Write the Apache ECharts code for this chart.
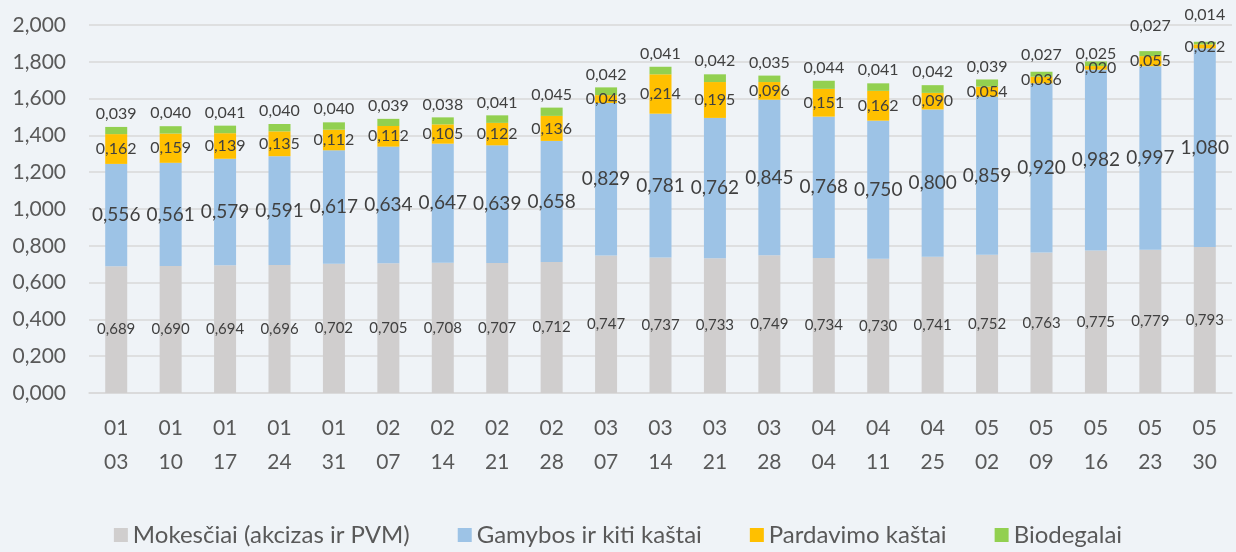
<!DOCTYPE html>
<html>
<head>
<meta charset="utf-8">
<title>Kainos struktūra</title>
<script src="https://cdn.jsdelivr.net/npm/echarts@6/dist/echarts.min.js"></script>
<style>
  html, body { margin: 0; padding: 0; background: #eff3f7; }
  #chart { width: 1236px; height: 552px; }
</style>
</head>
<body>
<div id="chart"></div>
<script>
// datos (mėnuo \n diena)
const categories = [
  '01\n03', '01\n10', '01\n17', '01\n24', '01\n31', '02\n07', '02\n14', '02\n21', '02\n28',
  '03\n07', '03\n14', '03\n21', '03\n28', '04\n04', '04\n11', '04\n25', '05\n02', '05\n09',
  '05\n16', '05\n23', '05\n30'
];
const mokesciai = [0.689, 0.690, 0.694, 0.696, 0.702, 0.705, 0.708, 0.707, 0.712, 0.747, 0.737,
  0.733, 0.749, 0.734, 0.730, 0.741, 0.752, 0.763, 0.775, 0.779, 0.793];
const gamybos = [0.556, 0.561, 0.579, 0.591, 0.617, 0.634, 0.647, 0.639, 0.658, 0.829, 0.781,
  0.762, 0.845, 0.768, 0.750, 0.800, 0.859, 0.920, 0.982, 0.997, 1.080];
const pardavimo = [0.162, 0.159, 0.139, 0.135, 0.112, 0.112, 0.105, 0.122, 0.136, 0.043, 0.214,
  0.195, 0.096, 0.151, 0.162, 0.090, 0.054, 0.036, 0.020, 0.055, 0.022];
const biodegalai = [0.039, 0.040, 0.041, 0.040, 0.040, 0.039, 0.038, 0.041, 0.045, 0.042, 0.041,
  0.042, 0.035, 0.044, 0.041, 0.042, 0.039, 0.027, 0.025, 0.027, 0.014];

const fmt = v => v.toFixed(3).replace('.', ',');
const font = 'Lato, "Noto Sans", sans-serif';
const textColor = '#404040';

// kai kurios viršutinės etiketės Excel'yje pakeltos ranka
const topLabelDistance = { 17: 9, 18: 0, 19: 17, 20: 19 };

const chart = echarts.init(document.getElementById('chart'));

const lbl = (size) => ({
  show: true,
  position: 'inside',
  color: textColor,
  fontFamily: font,
  fontSize: size,
  formatter: p => fmt(p.value)
});

chart.setOption({
  backgroundColor: '#eff3f7',
  animation: false,
  grid: { left: 89, right: 4, top: 25, bottom: 159 },
  legend: {
    bottom: 0,
    left: 'center',
    itemWidth: 14,
    itemHeight: 14,
    itemGap: 48,
    icon: 'rect',
    textStyle: { fontFamily: font, fontSize: 24, color: '#595959' }
  },
  xAxis: {
    type: 'category',
    data: categories,
    axisLine: { lineStyle: { color: '#d9d9d9', width: 1.5 } },
    axisTick: { show: false },
    axisLabel: {
      interval: 0,
      margin: 18,
      fontFamily: font,
      fontSize: 21,
      lineHeight: 34,
      color: '#595959'
    }
  },
  yAxis: {
    type: 'value',
    min: 0,
    max: 2,
    interval: 0.2,
    axisLine: { show: false },
    axisTick: { show: false },
    splitLine: { lineStyle: { color: '#d9d9d9', width: 1.5 } },
    axisLabel: {
      margin: 23,
      fontFamily: font,
      fontSize: 21,
      color: '#595959',
      formatter: fmt
    }
  },
  series: [
    {
      name: 'Mokesčiai (akcizas ir PVM)',
      type: 'bar',
      stack: 'kaina',
      barWidth: 22,
      data: mokesciai,
      itemStyle: { color: '#d0cece' },
      label: lbl(15)
    },
    {
      name: 'Gamybos ir kiti kaštai',
      type: 'bar',
      stack: 'kaina',
      data: gamybos,
      itemStyle: { color: '#9dc3e6' },
      label: lbl(19)
    },
    {
      name: 'Pardavimo kaštai',
      type: 'bar',
      stack: 'kaina',
      data: pardavimo,
      itemStyle: { color: '#ffc000' },
      label: lbl(16)
    },
    {
      name: 'Biodegalai',
      type: 'bar',
      stack: 'kaina',
      data: biodegalai.map((v, i) => (
        i in topLabelDistance ? { value: v, label: { distance: topLabelDistance[i] } } : v
      )),
      itemStyle: { color: '#92d050' },
      label: Object.assign(lbl(16), { position: 'top', distance: 5 })
    }
  ]
});
</script>
</body>
</html>
